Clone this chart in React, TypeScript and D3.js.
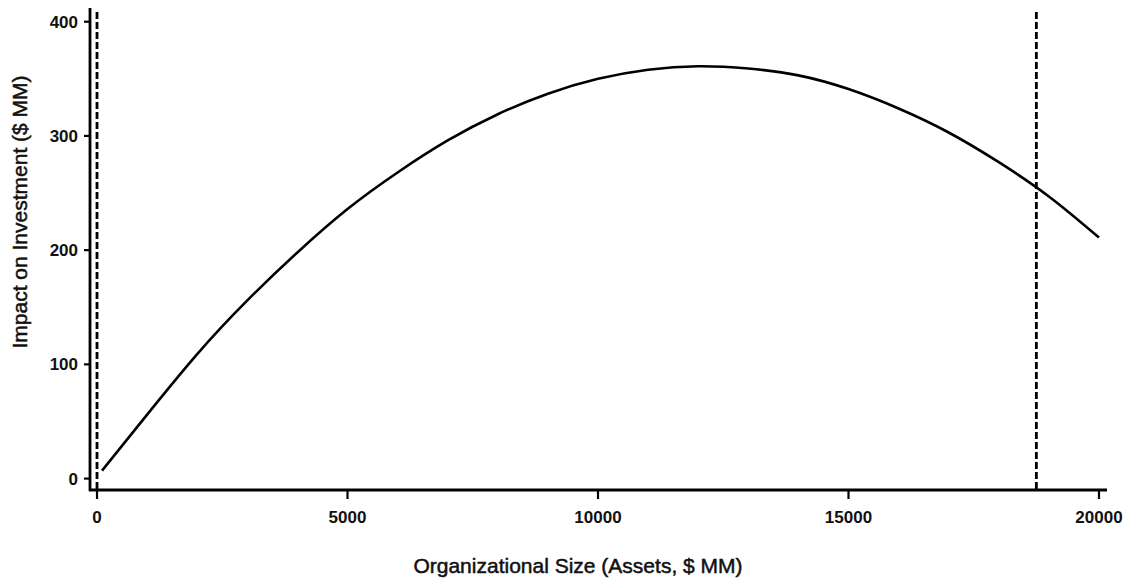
import React from "react";
import * as d3 from "d3";

const sizeValues = [100, 1000, 2000, 3000, 4000, 5000, 6000, 7000, 8000, 9000, 10000, 11000, 12000, 13000, 14000, 15000, 16000, 17000, 18000, 19000, 20000];
const impactValues = [7, 56, 109, 156, 198, 236, 268, 296, 319, 337, 350, 358, 361, 359, 353, 341, 324, 303, 277, 247, 211];
const xTicks = [0, 5000, 10000, 15000, 20000];
const yTicks = [0, 100, 200, 300, 400];
const boundaryValues = [0, 18750];

const W = 1141;
const H = 579;
const FONT = "'Liberation Sans', Arial, Helvetica, sans-serif";

export default function App() {
  const x = d3.scaleLinear().domain([-140, 20160]).range([90, 1107]);
  const y = d3.scaleLinear().domain([-10, 412]).range([490, 8]);
  const pts: [number, number][] = sizeValues.map((v, i) => [v, impactValues[i]]);
  const line = d3
    .line<[number, number]>()
    .x((d) => x(d[0]))
    .y((d) => y(d[1]))
    .curve(d3.curveNatural);
  const [x0, x1] = x.range();
  const [y0, y1] = y.range();
  return (
    <svg width={W} height={H} style={{ position: "absolute", left: 0, top: 0, background: "#fff" }}>
      <rect x={0} y={0} width={W} height={H} fill="#fff" />
      {boundaryValues.map((b) => (
        <line key={b} x1={x(b)} x2={x(b)} y1={12} y2={y0} stroke="#000" strokeWidth={2.8} strokeDasharray="7,3" />
      ))}
      <path d={line(pts) || ""} fill="none" stroke="#000" strokeWidth={2.6} />
      {/* y axis */}
      <line x1={x0} x2={x0} y1={y1} y2={y0 + 1} stroke="#000" strokeWidth={2.8} />
      {yTicks.map((t) => (
        <g key={t}>
          <line x1={x0 - 6} x2={x0} y1={y(t)} y2={y(t)} stroke="#000" strokeWidth={2.2} />
          <text x={78} y={y(t) + 6} textAnchor="end" fontFamily={FONT} fontWeight="bold" fontSize={17} fill="#111">
            {t}
          </text>
        </g>
      ))}
      {/* x axis */}
      <line x1={x0 - 1} x2={x1} y1={y0} y2={y0} stroke="#000" strokeWidth={2.8} />
      {xTicks.map((t) => (
        <g key={t}>
          <line x1={x(t)} x2={x(t)} y1={y0} y2={y0 + 9} stroke="#000" strokeWidth={2.2} />
          <text x={x(t)} y={523} textAnchor="middle" fontFamily={FONT} fontWeight="bold" fontSize={17} fill="#111">
            {t}
          </text>
        </g>
      ))}
      <text x={578} y={573} textAnchor="middle" fontFamily={FONT} fontSize={21} fill="#111" stroke="#111" strokeWidth={0.5}>
        Organizational Size (Assets, $ MM)
      </text>
      <text
        transform={`translate(27, 212) rotate(-90)`}
        textAnchor="middle"
        fontFamily={FONT}
        fontSize={21}
        fill="#111"
        stroke="#111"
        strokeWidth={0.5}
      >
        Impact on Investment ($ MM)
      </text>
    </svg>
  );
}
